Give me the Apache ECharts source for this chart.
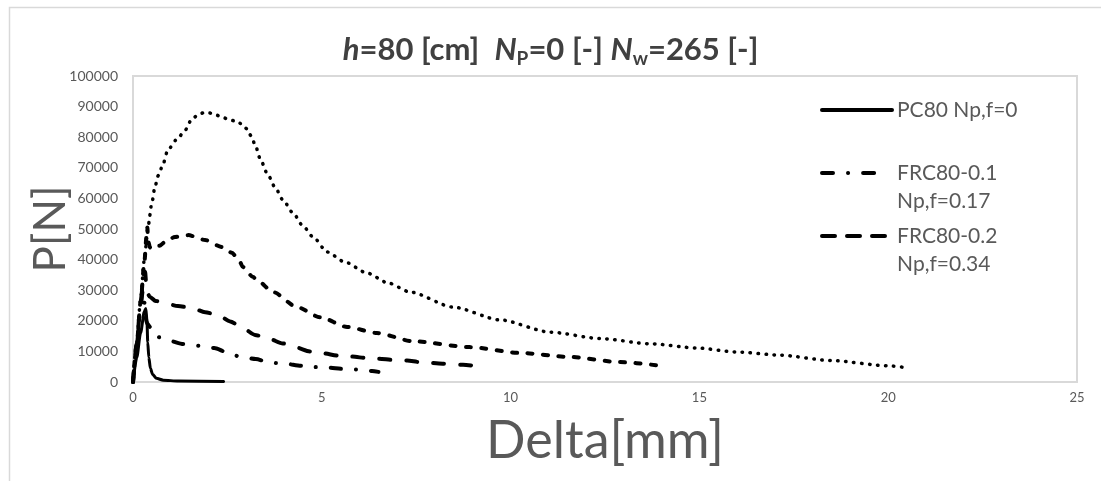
<!DOCTYPE html>
<html>
<head>
<meta charset="utf-8">
<script src="https://cdn.jsdelivr.net/npm/echarts@6/dist/echarts.min.js"></script>
<style>
  html, body { margin: 0; padding: 0; background: #fff; }
  #chart { width: 1101px; height: 481px; }
</style>
</head>
<body>
<div id="chart"></div>
<script>
// Load–deflection curves, Delta [mm] vs P [N]
const seriesNames = ['PC80 Np,f=0', 'FRC80-0.1\nNp,f=0.17', 'FRC80-0.2\nNp,f=0.34', 'Series 4', 'Series 5'];

const xTicks = { min: 0, max: 25, step: 5 };
const yTicks = { min: 0, max: 100000, step: 10000 };

// PC80 — plain concrete, sharp drop after peak
const pc80 = [
  [0, 0], [0.1, 8000], [0.2, 16000], [0.3, 23000], [0.34, 24000], [0.37, 20000],
  [0.39, 13000], [0.42, 8000], [0.46, 4500], [0.52, 2500], [0.62, 1200], [0.8, 600],
  [1.2, 300], [2.4, 200]
];

// FRC80-0.1
const frc01 = [
  [0, 0], [0.1, 12000], [0.2, 24500], [0.26, 30000], [0.3, 26000], [0.33, 21000],
  [0.38, 19000], [0.45, 18000], [0.55, 15500], [0.66, 14700], [0.95, 13500],
  [1.33, 12400], [1.8, 11800], [2.15, 11100], [2.49, 9700], [2.83, 8300],
  [3.25, 7500], [3.63, 6300], [4.0, 6000], [4.48, 5300], [4.77, 4900],
  [5.16, 4700], [5.56, 4300], [5.93, 4100], [6.33, 3600], [6.5, 3300]
];

// FRC80-0.2
const frc02 = [
  [0, 0], [0.1, 12500], [0.2, 26000], [0.28, 34000], [0.32, 36000], [0.35, 32000],
  [0.38, 29000], [0.45, 27800], [0.6, 26500], [0.85, 25800], [1.19, 24800],
  [1.56, 24200], [1.91, 22800], [2.25, 21900], [2.57, 19800], [2.91, 17600],
  [3.23, 15400], [3.58, 14200], [3.97, 12600], [4.29, 11400], [4.69, 10000],
  [5.03, 9400], [5.43, 8600], [5.8, 8300], [6.2, 7800], [6.5, 7600], [6.9, 7200],
  [7.26, 7000], [7.6, 6500], [8.2, 6000], [8.74, 5600], [9.14, 5200]
];

// fourth curve (short dashes)
const series4 = [
  [0, 0], [0.1, 12500], [0.2, 26000], [0.3, 39000], [0.36, 48000], [0.38, 50500],
  [0.4, 46000], [0.45, 44000], [0.55, 43500], [0.7, 44500], [0.85, 45800],
  [1.11, 47400], [1.46, 48000], [1.91, 46400], [2.36, 44100], [2.62, 42200],
  [2.8, 40000], [2.91, 37600], [3.18, 34300], [3.28, 33300], [3.71, 29400],
  [4.34, 24500], [4.95, 21200], [5.67, 18000], [6.46, 16000], [7.42, 13300],
  [8.92, 11400], [10.25, 9500], [11.57, 8200], [12.9, 6500], [13.85, 5500]
];

// fifth curve (dots)
const series5 = [
  [0, 0], [0.1, 13000], [0.2, 27000], [0.3, 40000], [0.4, 51000], [0.5, 58500],
  [0.58, 63700], [0.67, 67500], [0.77, 70300], [0.93, 76000], [1.19, 79700],
  [1.38, 82300], [1.56, 86000], [1.75, 87500], [1.91, 88200], [2.1, 87800],
  [2.3, 86900], [2.5, 86000], [2.7, 85300], [2.89, 84300], [3.02, 82700],
  [3.13, 80400], [3.25, 77000], [3.36, 73200], [3.55, 68300], [3.76, 63700],
  [3.97, 59500], [4.24, 55200], [4.5, 51000], [4.77, 47400], [5.14, 42500],
  [5.61, 39200], [6.2, 35600], [6.75, 32400], [7.34, 29400], [8.47, 24500],
  [9.72, 20300], [11.04, 16300], [12.37, 14200], [13.7, 12500], [14.94, 11100],
  [16.0, 9800], [17.1, 8800], [18.5, 7000], [20.0, 5300], [20.52, 4600]
];

const curves = [pc80, frc01, frc02, series4, series5];

const FONT = 'Lato, "Open Sans", sans-serif';
const GREY = '#595959';
const BORDER = '#d9d9d9';

// line patterns: solid, dash-dot, long dash, short dash, dots
const styles = [
  { width: 3, type: 'solid' },
  { width: 4, type: [10, 15, 0.1, 15] },
  { width: 4, type: [11, 16] },
  { width: 4, type: [5, 10.5] },
  { width: 3.5, type: [0.5, 7.5] }
];

const chart = echarts.init(document.getElementById('chart'), null, { renderer: 'canvas' });

const legendText = {
  color: GREY, fontFamily: FONT, fontSize: 21, lineHeight: 28
};

chart.setOption({
  animation: false,
  backgroundColor: '#fff',
  graphic: [{
    type: 'rect', left: 7, top: 5, silent: true,
    shape: { width: 1120, height: 520 },
    style: { fill: 'none', stroke: BORDER, lineWidth: 1.5 }
  }],
  title: {
    left: 'center', top: 27,
    text: '{hi|h}{b|=80 [cm]  }{hi|N}{sub|P}{b|=0 [-] }{hi|N}{sub|w}{b|=265 [-]}',
    textStyle: {
      rich: {
        b: { fontFamily: FONT, fontSize: 31, fontWeight: 'bold', color: '#404040', lineHeight: 36 },
        hi: { fontFamily: FONT, fontSize: 31, fontWeight: 'bold', fontStyle: 'italic', color: '#404040', lineHeight: 36 },
        sub: { fontFamily: FONT, fontSize: 19, fontWeight: 'bold', color: '#404040', lineHeight: 26, verticalAlign: 'bottom' }
      }
    }
  },
  grid: {
    left: 133, top: 76, right: 24, bottom: 99,
    show: true, borderColor: BORDER, borderWidth: 2, backgroundColor: 'transparent'
  },
  xAxis: {
    type: 'value', min: xTicks.min, max: xTicks.max, interval: xTicks.step,
    name: 'Delta[mm]', nameLocation: 'middle', nameGap: 33, nameMoveOverlap: false,
    nameTextStyle: { fontFamily: FONT, fontSize: 52, color: GREY },
    axisLine: { show: false }, axisTick: { show: false }, splitLine: { show: false },
    axisLabel: { color: GREY, fontFamily: FONT, fontSize: 13, margin: 9 }
  },
  yAxis: {
    type: 'value', min: yTicks.min, max: yTicks.max, interval: yTicks.step,
    name: 'P[N]', nameLocation: 'middle', nameGap: 60, nameMoveOverlap: false,
    nameTextStyle: { fontFamily: FONT, fontSize: 44, color: GREY },
    axisLine: { show: false }, axisTick: { show: false }, splitLine: { show: false },
    axisLabel: {
      color: GREY, fontFamily: FONT, fontSize: 14, margin: 15,
      formatter: function (v) { return String(v); }
    }
  },
  legend: [
    {
      data: [{ name: seriesNames[0], lineStyle: { width: 4 } }],
      left: 820, top: 96, orient: 'vertical', padding: 0,
      itemWidth: 70, itemHeight: 14, textStyle: legendText, itemStyle: { opacity: 0 }
    },
    {
      data: [{ name: seriesNames[1], lineStyle: { width: 4, type: [11, 15, 0.1, 15, 11, 100] } }],
      left: 820, top: 131, orient: 'vertical', padding: 0,
      itemWidth: 70, itemHeight: 14, textStyle: legendText, itemStyle: { opacity: 0 },
      formatter: function (n) { return ' \n' + n; }
    },
    {
      data: [{ name: seriesNames[2], lineStyle: { width: 4, type: [13, 12, 13, 12, 13, 100] } }],
      left: 820, top: 194, orient: 'vertical', padding: 0,
      itemWidth: 70, itemHeight: 14, textStyle: legendText, itemStyle: { opacity: 0 },
      formatter: function (n) { return ' \n' + n; }
    }
  ],
  series: curves.map(function (d, i) {
    return {
      type: 'line', name: seriesNames[i], data: d,
      showSymbol: false, symbol: 'none', smooth: 0.25, smoothMonotone: 'x',
      z: 10 - i,
      lineStyle: { color: '#000', width: styles[i].width, type: styles[i].type, cap: 'round', join: 'round' },
      itemStyle: { color: '#000' }
    };
  })
});
</script>
</body>
</html>
